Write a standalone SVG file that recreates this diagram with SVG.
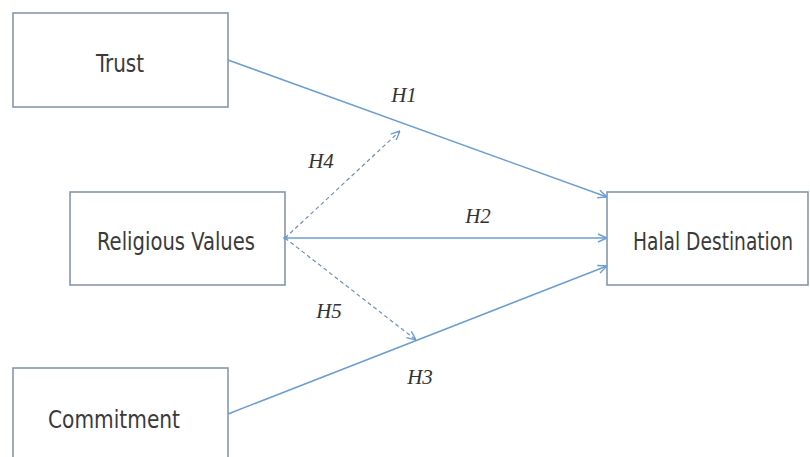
<svg xmlns="http://www.w3.org/2000/svg" width="810" height="457" viewBox="0 0 810 457">
<defs>
<style>
.box{fill:#fff;stroke:#8797ad;stroke-width:1.6}
.lbl{font-family:"DejaVu Sans Condensed","DejaVu Sans",sans-serif;font-size:25px;fill:#3a3a3a;text-anchor:middle}
.h{font-family:"Liberation Serif",serif;font-style:italic;font-size:21px;fill:#333;text-anchor:middle}
.ln{stroke:#6b9fd1;stroke-width:1.5;fill:none}
.ds{stroke:#6f8fb8;stroke-width:1.2;fill:none;stroke-dasharray:4 3}
</style>
<marker id="ar" viewBox="0 0 10 10" refX="10" refY="5" markerWidth="10" markerHeight="10" markerUnits="userSpaceOnUse" orient="auto">
<path d="M1,1 L10,5 L1,9" fill="none" stroke="#6b9fd1" stroke-width="1.4"/>
</marker>
</defs>
<rect width="810" height="457" fill="#fff"/>
<g id="trust"><rect class="box" x="13" y="13" width="215" height="94"/><text class="lbl" x="120" y="72" textLength="48" lengthAdjust="spacingAndGlyphs">Trust</text></g>
<g id="religious"><rect class="box" x="70" y="192" width="215" height="93"/><text class="lbl" x="176" y="250" textLength="158" lengthAdjust="spacingAndGlyphs">Religious Values</text></g>
<g id="commitment"><rect class="box" x="13" y="368" width="215" height="100"/><text class="lbl" x="114" y="428" textLength="132" lengthAdjust="spacingAndGlyphs">Commitment</text></g>
<g id="halal"><rect class="box" x="607" y="192" width="201" height="93"/><text class="lbl" transform="translate(713,250) scale(0.8,1)" x="0" y="0" textLength="200" lengthAdjust="spacingAndGlyphs">Halal Destination</text></g>
<g id="connectors">
<line class="ln" x1="228" y1="60" x2="607" y2="197" marker-end="url(#ar)"/>
<line class="ln" x1="285" y1="238" x2="607" y2="238" marker-end="url(#ar)"/>
<line class="ln" x1="228" y1="414" x2="607" y2="266" marker-end="url(#ar)"/>
<line class="ds" x1="285" y1="238" x2="400" y2="131" marker-end="url(#ar)"/>
<line class="ds" x1="285" y1="238" x2="416" y2="340" marker-end="url(#ar)"/>
<circle cx="285" cy="238" r="1.8" fill="#6b9fd1"/>
</g>
<g id="labels">
<text class="h" x="404" y="102">H1</text>
<text class="h" x="321" y="168">H4</text>
<text class="h" x="478" y="223">H2</text>
<text class="h" x="329" y="318">H5</text>
<text class="h" x="420" y="384">H3</text>
</g>
</svg>
